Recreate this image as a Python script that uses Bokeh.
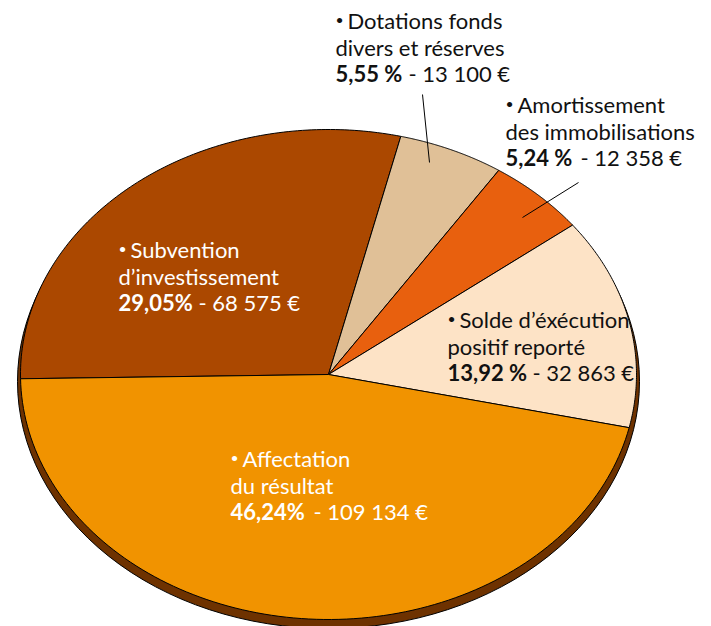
import numpy as np
from bokeh.plotting import figure
from bokeh.models import Range1d
from bokeh.core.properties import value
from bokeh.embed import file_html
from bokeh.resources import INLINE

# ---- data ----
name_line1 = ["Subvention", "Dotations fonds", "Amortissement",
              "Solde d’éxécution", "Affectation"]
name_line2 = ["d’investissement", "divers et réserves", "des immobilisations",
              "positif reporté", "du résultat"]
shares = [29.05, 5.55, 5.24, 13.92, 46.24]
pct_labels = ["29,05%", "5,55 %", "5,24 %", "13,92 %", "46,24%"]
amount_labels = ["- 68 575 €", "- 13 100 €", "- 12 358 €", "- 32 863 €", "- 109 134 €"]

# ---- styles / layout ----
colors = ["#AB4800", "#E0C097", "#E8600E", "#FDE3C6", "#F19300"]
text_colors = ["#FFFFFF", "#111111", "#111111", "#111111", "#FFFFFF"]
shadow_color = "#6E3200"
FONT = "Lato"
FS = "22px"

CX, CY, RX, RY = 328, 374, 308, 245
START = 181.0
label_x = [118, 335, 505, 447, 230]
label_y = [249, 20, 104, 319, 458]
amount_x = [198, 408, 580, 532, 313]
LINE = 26.5
leaders = {1: ((422, 94), (429, 162)), 2: ((578, 182), (522, 217))}

W, H = 711, 626
p = figure(width=W, height=H, output_backend="svg", toolbar_location=None,
           x_range=Range1d(0, W), y_range=Range1d(H, 0),
           min_border=0)
p.axis.visible = False
p.grid.visible = False
p.outline_line_color = None
p.background_fill_color = "white"

# shadow
p.ellipse(x=[CX], y=[CY + 7], width=[2 * RX + 6], height=[2 * RY + 4],
          fill_color=shadow_color, line_color="black", line_width=1)

# slices
xs, ys = [], []
a = START
for s in shares:
    sweep = s / 100 * 360
    t = np.radians(np.linspace(a, a - sweep, 120))
    xs.append([CX] + list(CX + RX * np.cos(t)))
    ys.append([CY] + list(CY - RY * np.sin(t)))
    a -= sweep
p.patches(xs, ys, fill_color=colors, line_color="black", line_width=1)

# leader lines
for i, ((x0, y0), (x1, y1)) in leaders.items():
    p.line([x0, x1], [y0, y1], line_color="black", line_width=1)

# labels
for i in range(len(shares)):
    common = dict(text_font=value(FONT), text_font_size=FS, text_color=text_colors[i],
                  text_align="left", text_baseline="alphabetic")
    p.text(x=[label_x[i]], y=[label_y[i] - 1], text=["•"],
           **{**common, "text_font_size": "14px"})
    p.text(x=[label_x[i] + 12], y=[label_y[i]], text=[name_line1[i]], **common)
    p.text(x=[label_x[i]], y=[label_y[i] + LINE], text=[name_line2[i]], **common)
    p.text(x=[label_x[i]], y=[label_y[i] + 2 * LINE], text=[pct_labels[i]],
           text_font_style="bold", **common)
    p.text(x=[amount_x[i]], y=[label_y[i] + 2 * LINE], text=[amount_labels[i]], **common)

open("out.html", "w").write(file_html(p, INLINE))
